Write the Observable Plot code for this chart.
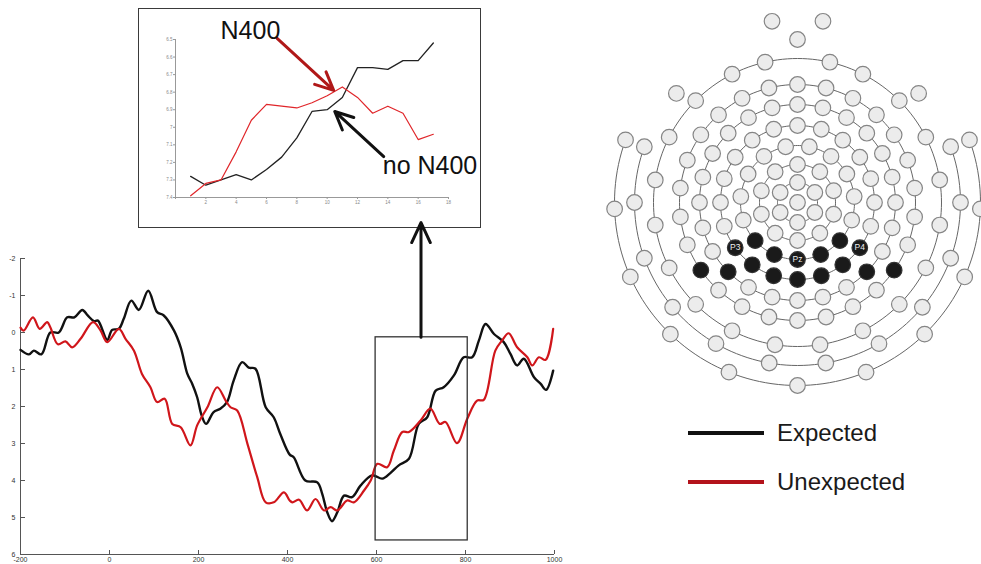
<!DOCTYPE html>
<html><head><meta charset="utf-8">
<script src="https://cdn.jsdelivr.net/npm/d3@7"></script>
<script src="https://cdn.jsdelivr.net/npm/@observablehq/plot@0.6"></script>
<style>
html,body{margin:0;padding:0;background:#fff;}
#root{position:relative;width:981px;height:564px;overflow:hidden;font-family:"Liberation Sans",Arial,sans-serif;background:#fff;}
.abs{position:absolute;}
#insetBorder{left:138px;top:8px;width:343px;height:220px;box-sizing:border-box;border:1.5px solid #3a3a3a;}
.legline{position:absolute;left:688px;width:76px;height:4px;}
.legtext{position:absolute;left:777px;font-size:24px;color:#1a1a1a;line-height:1;}
</style></head>
<body><div id="root">
<div id="map" class="abs" style="left:600px;top:0px"></div>
<div id="inset" class="abs" style="left:138px;top:8px"></div>
<div id="insetBorder" class="abs"></div>
<div id="main" class="abs" style="left:0px;top:200px"></div>
<div class="legline" style="top:431px;background:#111"></div>
<div class="legtext" style="top:421px">Expected</div>
<div class="legline" style="top:480px;background:#b3121b"></div>
<div class="legtext" style="top:470px">Unexpected</div>
</div>
<script>
// ---------- main ERP waveform (Pz cluster) ----------
const expectedTime = [-200,-181,-170,-153,-133,-114,-95,-79,-61,-49,-35,-26,-5,6,21,32,49,66,87,107,122,145,160,175,186,197,207,217,234,249,264,279,298,313,328,351,369,384,405,414,440,467,478,489,500,512,527,545,564,590,613,631,650,673,695,714,733,751,774,796,815,830,845,864,886,901,916,931,954,969,981,997];
const expectedAmp  = [0.47,0.59,0.49,0.59,0.0,0.0,-0.41,-0.41,-0.61,-0.46,-0.31,-0.32,0.2,-0.07,-0.1,-0.37,-0.86,-0.61,-1.13,-0.55,-0.46,-0.05,0.4,1.12,1.39,1.75,2.24,2.47,2.15,2.06,1.88,1.3,0.8,0.95,0.98,2.02,2.29,2.75,3.3,3.37,4.0,4.05,4.36,4.85,5.1,4.86,4.41,4.45,4.14,3.86,3.95,3.8,3.59,3.41,2.47,2.29,1.57,1.48,1.16,0.67,0.67,0.22,-0.23,0.04,0.26,0.58,0.89,0.71,1.21,1.39,1.55,1.03];
const unexpectedTime = [-200,-193,-172,-157,-140,-133,-116,-99,-84,-65,-37,-20,-5,21,36,55,73,92,107,124,141,160,182,197,220,242,261,272,287,310,332,351,369,392,405,411,426,444,463,482,497,512,534,549,572,587,602,624,639,658,673,699,721,742,755,781,804,826,841,867,882,897,916,939,950,965,980,997];
const unexpectedAmp  = [-0.13,-0.05,-0.41,-0.1,-0.28,-0.14,0.32,0.24,0.4,0.17,-0.28,-0.05,0.26,-0.1,0.17,0.49,1.12,1.48,1.88,1.79,2.47,2.56,3.05,2.51,2.02,1.48,1.84,2.02,2.11,3.01,3.91,4.59,4.59,4.32,4.54,4.59,4.52,4.81,4.5,4.81,4.72,4.81,4.54,4.59,4.27,4.0,3.55,3.64,3.19,2.69,2.69,2.38,2.06,2.47,2.42,2.99,2.33,1.84,1.82,0.49,0.22,0.02,0.4,0.67,0.89,0.67,0.74,-0.1];
const mainXTicks = [-200,0,200,400,600,800,1000];
const mainYTicks = [-2,-1,0,1,2,3,4,5,6];
const zoomWindow = [{x1:598, x2:805, y1:0.13, y2:5.62}];
const zoomArrow = [{x:700, y1:0.13, y2:-2.97}];

// ---------- inset (trial-by-trial) ----------
const insetTrial = [1,2,3,4,5,6,7,8,9,10,11,12,13,14,15,16,17];
const insetNoN400 = [7.28,7.33,7.30,7.27,7.30,7.24,7.17,7.06,6.91,6.90,6.83,6.66,6.66,6.67,6.62,6.62,6.52];
const insetN400   = [7.39,7.32,7.30,7.14,6.96,6.87,6.88,6.89,6.86,6.82,6.77,6.83,6.92,6.88,6.92,7.07,7.04];
const insetXTicks = [0,2,4,6,8,10,12,14,16,18];
const insetYTicks = [6.5,6.6,6.7,6.8,6.9,7,7.1,7.2,7.3,7.4];
const insetLabels = [{x:4.94, y:6.453, text:"N400"}, {x:16.78, y:7.219, text:"no N400"}];
const insetRedArrow = [{x1:6.7, y1:6.494, x2:10.43, y2:6.79}];
const insetBlackArrow = [{x1:13.73, y1:7.167, x2:10.5, y2:6.91}];

// ---------- electrode montage (polar: ring radius, angles in degrees, 90 = down) ----------
const ringRadius = [0, 20, 38, 57, 77, 98, 118, 144, 163, 183];
const ringAngles = [
  [0],
  [30,90,150,210,270,330],
  [18,54,90,126,162,198,234,270,306,342],
  [18,42,66,90,114,138,162,186,210,234,258,282,306,330,354],
  [0,18,36,54,72,90,108,126,144,162,180,198,216,234,252,270,288,306,324,342],
  [0,15,30,45,60,75,90,105,120,135,150,165,180,195,210,225,240,255,270,285,300,315,330,345],
  [90,104,118,132,145,159,173,187,201,215,228,242,256,270,284,298,312,325,339,353,7,21,35,48,62,76],
  [9,27,45,63,81,99,117,135,153,171,189,207,225,243,257,283,297,315,333,351],
  [200,180,160,140,120,100,80,60,40,20,0,340,222,318,270],
  [200,178,156,134,112,90,68,46,24,2,340,262,278]
];
const ringArcStart = [0, 0, 0, 0, 0, 0, 0, 0, -20, -20];
const ringArcEnd   = [0, 360, 360, 360, 360, 360, 360, 360, 200, 200];
const activeElectrodes = [[3,42],[3,66],[3,90],[3,114],[3,138],[4,36],[4,54],[4,72],[4,90],[4,108],[4,126],[4,144],[5,45],[5,135],[6,35],[6,145]];
const electrodeNames = [{ring:4, angle:144, name:"P3"}, {ring:3, angle:90, name:"Pz"}, {ring:4, angle:36, name:"P4"}];

const FONT = "Liberation Sans, Arial, sans-serif";
const fmt = d => `${d}`;

// main
const expected = expectedTime.map((t, i) => ({t, v: expectedAmp[i]}));
const unexpected = unexpectedTime.map((t, i) => ({t, v: unexpectedAmp[i]}));
const mainPlot = Plot.plot({
  width: 580, height: 364,
  marginLeft: 20, marginRight: 26, marginTop: 58, marginBottom: 10,
  x: {domain: [-200, 1000]},
  y: {domain: [-2, 6], reverse: true},
  style: {background: "transparent", fontFamily: FONT, overflow: "visible"},
  marks: [
    Plot.ruleX([-200], {y1: -2, y2: 6, stroke: "#555", strokeWidth: 1}),
    Plot.ruleY([6], {x1: -200, x2: 1000, stroke: "#555", strokeWidth: 1}),
    Plot.axisY(mainYTicks, {tickSize: -5, tickPadding: 10, fontSize: 7, fill: "#333", stroke: "#555", tickFormat: fmt}),
    Plot.axisX(mainXTicks, {tickSize: -4, tickPadding: 7, fontSize: 7, fill: "#333", stroke: "#555", tickFormat: fmt}),
    Plot.line(expected, {x: "t", y: "v", stroke: "#111", strokeWidth: 2.4, curve: "catmull-rom"}),
    Plot.line(unexpected, {x: "t", y: "v", stroke: "#d0161b", strokeWidth: 2.2, curve: "catmull-rom"}),
    Plot.rect(zoomWindow, {x1: "x1", x2: "x2", y1: "y1", y2: "y2", fill: "none", stroke: "#333", strokeWidth: 1.3}),
    Plot.arrow(zoomArrow, {x1: "x", x2: "x", y1: "y1", y2: "y2", stroke: "#111", strokeWidth: 3, headLength: 11, headAngle: 50})
  ]
});
document.getElementById("main").appendChild(mainPlot);

// inset
const insetBlack = insetTrial.map((x, i) => ({x, y: insetNoN400[i]}));
const insetRed = insetTrial.map((x, i) => ({x, y: insetN400[i]}));
const insetPlot = Plot.plot({
  width: 343, height: 220,
  marginLeft: 37, marginRight: 33, marginTop: 31, marginBottom: 31,
  x: {domain: [0, 18]},
  y: {domain: [6.5, 7.4], reverse: true},
  style: {background: "transparent", fontFamily: FONT, overflow: "visible"},
  marks: [
    Plot.ruleX([0], {y1: 6.5, y2: 7.4, stroke: "#999"}),
    Plot.ruleY([7.4], {x1: 0, x2: 18, stroke: "#999"}),
    Plot.axisY(insetYTicks, {tickSize: 2, tickPadding: 1, fontSize: 4.5, fill: "#888", stroke: "#999", tickFormat: fmt}),
    Plot.axisX(insetXTicks, {tickSize: 2, tickPadding: 1, fontSize: 4.5, fill: "#888", stroke: "#999", tickFormat: d => d === 0 ? "" : fmt(d)}),
    Plot.line(insetBlack, {x: "x", y: "y", stroke: "#222", strokeWidth: 1.3}),
    Plot.line(insetRed, {x: "x", y: "y", stroke: "#e0262a", strokeWidth: 1.2}),
    Plot.arrow(insetRedArrow, {x1: "x1", y1: "y1", x2: "x2", y2: "y2", stroke: "#b01818", strokeWidth: 3, headLength: 10, headAngle: 50}),
    Plot.arrow(insetBlackArrow, {x1: "x1", y1: "y1", x2: "x2", y2: "y2", stroke: "#111", strokeWidth: 3, headLength: 10, headAngle: 50}),
    Plot.text(insetLabels, {x: "x", y: "y", text: "text", fontSize: 25, fill: "#111", textAnchor: "middle", fontFamily: FONT})
  ]
});
document.getElementById("inset").appendChild(insetPlot);

// map
const rad = a => a * Math.PI / 180;
const activeSet = new Set(activeElectrodes.map(([r, a]) => r + ":" + a));
const electrodes = [];
ringAngles.forEach((angles, ri) => angles.forEach(a => {
  const r = ringRadius[ri];
  electrodes.push({x: r * Math.cos(rad(a)), y: r * Math.sin(rad(a)), active: activeSet.has(ri + ":" + a)});
}));
const ringLines = [];
ringRadius.forEach((r, ri) => {
  if (ri === 0) return;
  for (let a = ringArcStart[ri]; a <= ringArcEnd[ri]; a += 2)
    ringLines.push({ring: ri, x: r * Math.cos(rad(a)), y: r * Math.sin(rad(a))});
});
const names = electrodeNames.map(d => ({
  x: ringRadius[d.ring] * Math.cos(rad(d.angle)),
  y: ringRadius[d.ring] * Math.sin(rad(d.angle)),
  name: d.name
}));
const mapPlot = Plot.plot({
  width: 381, height: 400,
  margin: 0,
  x: {domain: [-197, 184], range: [0, 381], axis: null},
  y: {domain: [-202, 198], range: [0, 400], axis: null},
  style: {background: "transparent", fontFamily: FONT},
  marks: [
    Plot.line(ringLines, {x: "x", y: "y", z: "ring", stroke: "#666", strokeWidth: 1}),
    Plot.dot(electrodes.filter(d => !d.active), {x: "x", y: "y", r: 7.8, fill: "#ececec", stroke: "#858585", strokeWidth: 1.2}),
    Plot.dot(electrodes.filter(d => d.active), {x: "x", y: "y", r: 7.8, fill: "#1a1a1a", stroke: "#333", strokeWidth: 1.2}),
    Plot.text(names, {x: "x", y: "y", text: "name", fill: "#eee", fontSize: 8.5, fontFamily: FONT})
  ]
});
document.getElementById("map").appendChild(mapPlot);
</script>
</body></html>
